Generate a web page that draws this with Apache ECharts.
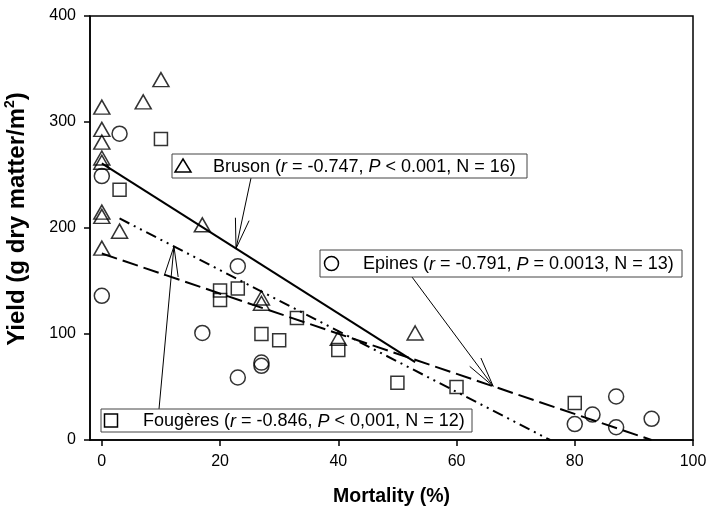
<!DOCTYPE html>
<html>
<head>
<meta charset="utf-8">
<script src="https://cdn.jsdelivr.net/npm/echarts@6/dist/echarts.min.js"></script>
<style>
  html, body { margin: 0; padding: 0; background: #fff; }
  #chart { width: 708px; height: 510px; }
</style>
</head>
<body>
<div id="chart"></div>
<script>
// Yield versus mortality at three sites
const brusonMortality   = [0, 0, 0, 0, 0, 7, 10, 0, 0, 3, 0, 17, 27, 27, 40, 53];
const brusonYield       = [314, 293, 281, 266, 262, 319, 340, 215, 211, 197, 181, 203, 134, 129, 96, 101];
const epinesMortality   = [3, 0, 0, 17, 23, 23, 27, 27, 80, 83, 87, 87, 93];
const epinesYield       = [289, 249, 136, 101, 164, 59, 73, 70, 15, 24, 41, 12, 20];
const fougeresMortality = [10, 3, 20, 20, 23, 27, 30, 33, 40, 50, 60, 80];
const fougeresYield     = [284, 236, 141, 132, 143, 100, 94, 115, 85, 54, 50, 35];

// Fitted regression lines: intercept, slope, mortality range
const brusonFit   = { intercept: 261,   slope: -3.54,  from: 0, to: 53 };
const epinesFit   = { intercept: 176,   slope: -1.893, from: 0, to: 93 };
const fougeresFit = { intercept: 217.6, slope: -2.87,  from: 3, to: 80 };

// Mortality at which each annotation arrow meets its line
const brusonArrowAt   = 22.7;
const epinesArrowAt   = 66.2;
const fougeresArrowAt = 12.2;

const xTicks = [0, 20, 40, 60, 80, 100];
const yTicks = [0, 100, 200, 300, 400];

const FONT = '"Liberation Sans", Arial, Helvetica, sans-serif';

function pairs(xs, ys) { return xs.map((x, i) => [x, ys[i]]); }
function fitY(f, x) { return f.intercept + f.slope * x; }
function fitLine(f) {
  const x1 = Math.min(f.to, -f.intercept / f.slope);
  return [[f.from, fitY(f, f.from)], [x1, fitY(f, x1)]];
}

const hollow = { color: 'rgba(0,0,0,0)', borderColor: '#000', borderWidth: 1.5 };

const chart = echarts.init(document.getElementById('chart'), null, { renderer: 'canvas' });

chart.setOption({
  animation: false,
  backgroundColor: '#fff',
  grid: {
    left: 90, right: 15, top: 16, bottom: 70,
    show: true, borderColor: '#000', borderWidth: 1.5,
    containLabel: false, outerBoundsMode: 'none'
  },
  xAxis: {
    type: 'value', min: -2, max: 100,
    name: 'Mortality (%)', nameLocation: 'middle', nameGap: 47,
    nameTextStyle: { fontFamily: FONT, fontWeight: 'bold', fontSize: 19.5, color: '#000' },
    axisLine: { show: true, onZero: false, lineStyle: { color: '#000', width: 1.5 } },
    axisTick: { show: true, inside: false, length: 6, lineStyle: { color: '#000', width: 1.5 }, customValues: xTicks },
    axisLabel: { fontFamily: FONT, fontSize: 16, color: '#000', margin: 14, customValues: xTicks },
    splitLine: { show: false }
  },
  yAxis: {
    type: 'value', min: 0, max: 400, interval: 100,
    name: '{a|Yield (g dry matter/m}{s|2}{a|)}', nameLocation: 'middle', nameGap: 59,
    nameTextStyle: {
      fontFamily: FONT, fontWeight: 'bold', fontSize: 24, color: '#000',
      padding: [0, 0, 0, 18],
      rich: {
        a: { fontFamily: FONT, fontWeight: 'bold', fontSize: 24, color: '#000', lineHeight: 28 },
        s: { fontFamily: FONT, fontWeight: 'bold', fontSize: 14, color: '#000', lineHeight: 28, verticalAlign: 'top', padding: [0, 0, 10, 0] }
      }
    },
    axisLine: { show: true, onZero: false, lineStyle: { color: '#000', width: 1.5 } },
    axisTick: { show: true, inside: false, length: 6, lineStyle: { color: '#000', width: 1.5 } },
    axisLabel: { fontFamily: FONT, fontSize: 16, color: '#000', margin: 14, formatter: v => yTicks.includes(v) ? String(v) : '' },
    splitLine: { show: false }
  },
  series: [
    { name: 'Bruson fit', type: 'line', data: fitLine(brusonFit), showSymbol: false, z: 2,
      lineStyle: { color: '#000', width: 2, type: 'solid' } },
    { name: 'Epines fit', type: 'line', data: fitLine(epinesFit), showSymbol: false, z: 2,
      lineStyle: { color: '#000', width: 2, type: [16, 6] } },
    { name: 'Fougères fit', type: 'line', data: fitLine(fougeresFit), showSymbol: false, z: 2,
      lineStyle: { color: '#000', width: 2, type: [11, 5, 2, 5, 2, 5] } },
    { name: 'Bruson', type: 'scatter', symbol: 'triangle', symbolSize: [16, 14], z: 3,
      data: pairs(brusonMortality, brusonYield), itemStyle: hollow },
    { name: 'Epines', type: 'scatter', symbol: 'circle', symbolSize: 15, z: 3,
      data: pairs(epinesMortality, epinesYield), itemStyle: hollow },
    { name: 'Fougères', type: 'scatter', symbol: 'rect', symbolSize: 13, z: 3,
      data: pairs(fougeresMortality, fougeresYield), itemStyle: hollow }
  ]
});

// Annotation boxes with open arrowheads pointing at each fitted line
function toPx(x, y) { return chart.convertToPixel({ gridIndex: 0 }, [x, y]); }

function arrow(from, to) {
  const dx = to[0] - from[0], dy = to[1] - from[1];
  const len = Math.hypot(dx, dy), ux = dx / len, uy = dy / len;
  const hl = 30, hw = 7;
  const bx = to[0] - ux * hl, by = to[1] - uy * hl;
  const w1 = [bx - uy * hw, by + ux * hw], w2 = [bx + uy * hw, by - ux * hw];
  const ls = { stroke: '#000', lineWidth: 1, fill: null };
  return [
    { type: 'line', shape: { x1: from[0], y1: from[1], x2: to[0], y2: to[1] }, style: ls, z: 10 },
    { type: 'polyline', shape: { points: [w1, to, w2] }, style: ls, z: 10 }
  ];
}

function richLabel(parts) {
  return parts.map(p => p[1] ? '{i|' + p[0] + '}' : '{n|' + p[0] + '}').join('');
}
const richStyles = {
  n: { fontFamily: FONT, fontSize: 18, fill: '#000' },
  i: { fontFamily: FONT, fontSize: 18, fill: '#000', fontStyle: 'italic' }
};

function box(rect, textX, label, marker) {
  return [
    { type: 'rect', shape: { x: rect[0], y: rect[1], width: rect[2], height: rect[3] },
      style: { fill: '#fff', stroke: '#444', lineWidth: 1 }, z: 11 },
    Object.assign({ z: 12 }, marker),
    { type: 'text', x: textX, y: rect[1] + rect[3] / 2 + 1, z: 12,
      style: { text: label, rich: richStyles, fontFamily: FONT, fontSize: 18, fill: '#000', verticalAlign: 'middle', align: 'left' } }
  ];
}

const mk = { fill: 'none', stroke: '#000', lineWidth: 1.5 };

const brusonBox = [172, 154, 355, 24];
const epinesBox = [320, 250, 362, 27];
const fougeresBox = [101, 409, 371, 23];

const graphics = [].concat(
  arrow([251, brusonBox[1] + brusonBox[3]], toPx(brusonArrowAt, fitY(brusonFit, brusonArrowAt))),
  arrow([412, epinesBox[1] + epinesBox[3]], toPx(epinesArrowAt, fitY(epinesFit, epinesArrowAt))),
  arrow([159, fougeresBox[1]], toPx(fougeresArrowAt, fitY(fougeresFit, fougeresArrowAt))),
  box(brusonBox, 213,
    richLabel([['Bruson ('], ['r', 1], [' = -0.747, '], ['P', 1], [' < 0.001, N = 16)']]),
    { type: 'polygon', shape: { points: [[183, 159], [191, 172], [175, 172]] }, style: mk }),
  box(epinesBox, 363,
    richLabel([['Epines ('], ['r', 1], [' = -0.791, '], ['P', 1], [' = 0.0013, N = 13)']]),
    { type: 'circle', shape: { cx: 331.5, cy: 263.5, r: 7 }, style: mk }),
  box(fougeresBox, 143,
    richLabel([['Fougères ('], ['r', 1], [' = -0.846, '], ['P', 1], [' < 0,001, N = 12)']]),
    { type: 'rect', shape: { x: 104.5, y: 414, width: 13, height: 13 }, style: mk })
);

chart.setOption({ graphic: { elements: graphics } });
</script>
</body>
</html>
